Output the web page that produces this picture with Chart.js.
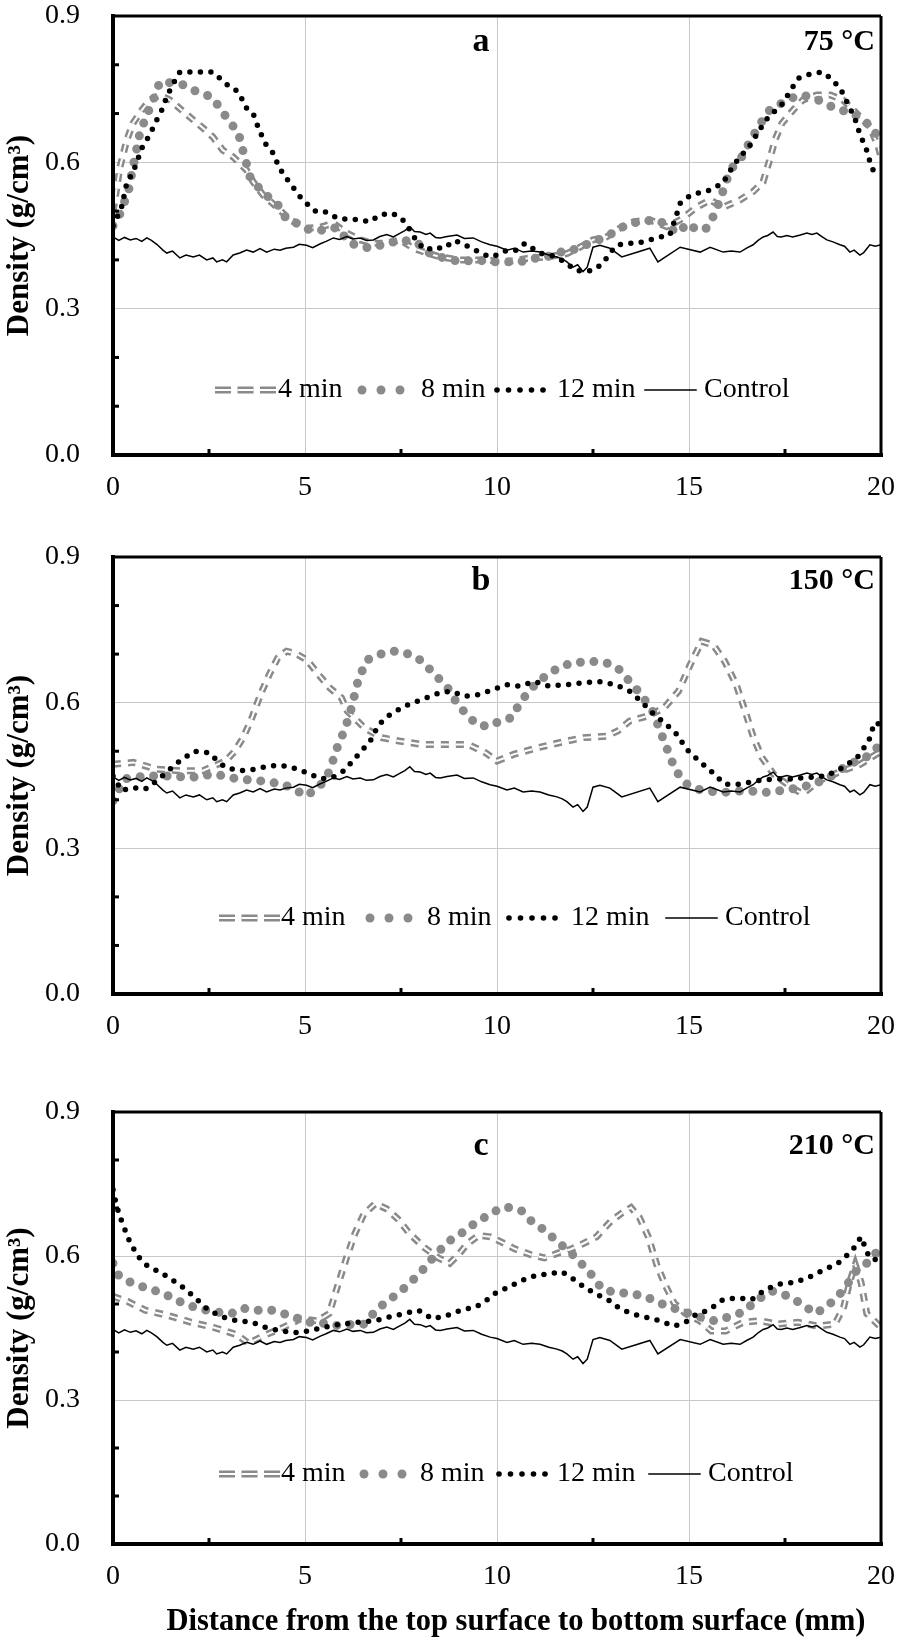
<!DOCTYPE html>
<html>
<head>
<meta charset="utf-8">
<script src="https://cdn.jsdelivr.net/npm/chart.js@4.4.0/dist/chart.umd.min.js"></script>
<style>
  html, body { margin: 0; padding: 0; background: #fff; }
  #wrap { position: relative; width: 898px; height: 1637px; }
  canvas { position: absolute; left: 0; }
</style>
</head>
<body>
<div id="wrap">
  <canvas id="ca" width="898" height="520" style="top:0"></canvas>
  <canvas id="cb" width="898" height="540" style="top:520px"></canvas>
  <canvas id="cc" width="898" height="577" style="top:1060px"></canvas>
</div>
<script>
const FONT = '"Liberation Serif", "Times New Roman", serif';
const GRAY = '#8a8a8a';
const GRID = '#c8c8c8';

const seriesNames = ['4 min', '8 min', '12 min', 'Control'];
const yMinor = [0.1, 0.2, 0.4, 0.5, 0.7, 0.8];
const xMinor = [2.5, 7.5, 12.5, 17.5];

// control sample, same curve in all three panels  [mm, g/cm3]
const control = [[0,0.447],[0.15,0.44],[0.3,0.446],[0.45,0.441],[0.6,0.444],[0.75,0.438],[0.88,0.445],[1.0,0.44],
  [1.14,0.432],[1.3,0.42],[1.4,0.414],[1.55,0.418],[1.74,0.404],[1.9,0.41],[2.09,0.406],[2.25,0.41],[2.44,0.4],
  [2.6,0.404],[2.7,0.396],[2.85,0.4],[2.96,0.396],[3.13,0.41],[3.3,0.414],[3.48,0.42],[3.65,0.416],[3.83,0.423],
  [4.0,0.416],[4.2,0.422],[4.35,0.42],[4.5,0.424],[4.7,0.426],[4.85,0.432],[5.04,0.43],[5.2,0.425],[5.4,0.433],
  [5.55,0.438],[5.74,0.445],[5.9,0.442],[6.09,0.448],[6.25,0.443],[6.44,0.445],[6.6,0.44],[6.78,0.441],[6.95,0.448],
  [7.13,0.452],[7.3,0.447],[7.48,0.455],[7.6,0.46],[7.73,0.468],[7.85,0.458],[8.0,0.457],[8.15,0.452],[8.26,0.455],
  [8.4,0.446],[8.52,0.445],[8.7,0.448],[8.96,0.451],[9.15,0.444],[9.38,0.445],[9.6,0.437],[9.82,0.431],[10.0,0.428],
  [10.26,0.42],[10.45,0.424],[10.68,0.416],[10.9,0.418],[11.12,0.416],[11.35,0.41],[11.56,0.406],[11.7,0.402],
  [11.82,0.396],[11.98,0.385],[12.1,0.39],[12.24,0.376],[12.35,0.385],[12.5,0.426],[12.68,0.43],[12.94,0.424],
  [13.25,0.406],[13.98,0.424],[14.19,0.396],[14.77,0.426],[15.29,0.416],[15.55,0.426],[15.89,0.416],[16.1,0.418],
  [16.33,0.416],[16.5,0.424],[16.67,0.431],[16.8,0.44],[16.93,0.447],[17.05,0.45],[17.19,0.457],[17.3,0.448],
  [17.4,0.447],[17.55,0.45],[17.7,0.447],[17.9,0.451],[18.07,0.455],[18.2,0.452],[18.33,0.455],[18.45,0.448],
  [18.59,0.441],[18.75,0.437],[18.93,0.431],[19.05,0.428],[19.19,0.416],[19.3,0.42],[19.45,0.41],[19.55,0.415],
  [19.71,0.431],[19.85,0.428],[20,0.431]];

// panel a, 75 C
const a4 = [[0,0.5],[0.05,0.523],[0.18,0.59],[0.36,0.646],[0.52,0.68],[0.75,0.707],[0.96,0.728],[1.22,0.738],
  [1.48,0.728],[1.79,0.707],[2.09,0.687],[2.35,0.67],[2.6,0.652],[2.86,0.625],[3.13,0.611],[3.48,0.584],[3.65,0.56],
  [3.91,0.533],[4.27,0.508],[4.61,0.482],[5.04,0.465],[5.4,0.467],[5.74,0.475],[6.09,0.455],[6.44,0.441],[6.78,0.434],
  [7.13,0.434],[7.48,0.441],[7.82,0.424],[8.18,0.414],[8.52,0.406],[9.04,0.4],[9.65,0.4],[10.26,0.396],[10.78,0.403],
  [11.3,0.406],[11.82,0.413],[12.16,0.426],[12.5,0.441],[12.85,0.447],[13.2,0.465],[13.55,0.478],[13.98,0.482],
  [14.42,0.468],[14.77,0.482],[15.2,0.508],[15.55,0.523],[15.89,0.508],[16.33,0.523],[16.67,0.54],[16.93,0.56],
  [17.1,0.605],[17.24,0.646],[17.42,0.68],[17.71,0.707],[17.97,0.728],[18.33,0.738],[18.68,0.738],[19.01,0.728],
  [19.37,0.7],[19.71,0.673],[19.93,0.632],[20,0.61]];
const a8 = [[0,0.47],[0.14,0.486],[0.4,0.54],[0.52,0.59],[0.7,0.66],[0.88,0.697],[1.05,0.728],[1.22,0.765],
  [1.53,0.763],[1.82,0.759],[2.18,0.745],[2.57,0.734],[2.8,0.71],[3.03,0.683],[3.26,0.662],[3.38,0.625],[3.57,0.57],
  [3.91,0.537],[4.27,0.516],[4.53,0.482],[4.79,0.475],[5.13,0.461],[5.6,0.461],[5.83,0.467],[6.17,0.434],[6.69,0.424],
  [7.13,0.434],[7.55,0.441],[7.94,0.434],[8.18,0.416],[8.52,0.406],[9.04,0.396],[9.47,0.4],[9.82,0.396],[10.26,0.396],
  [10.6,0.396],[10.95,0.403],[11.3,0.406],[11.56,0.416],[11.82,0.416],[12.16,0.426],[12.5,0.437],[12.85,0.447],
  [13.12,0.461],[13.46,0.475],[13.77,0.478],[14.07,0.482],[14.37,0.475],[14.69,0.455],[14.98,0.475],[15.2,0.461],
  [15.46,0.465],[15.68,0.496],[15.85,0.533],[16.07,0.584],[16.37,0.611],[16.63,0.649],[16.89,0.683],[17.1,0.707],
  [17.63,0.731],[17.97,0.738],[18.36,0.728],[18.8,0.711],[19.28,0.7],[19.76,0.673],[20,0.64]];
const a12 = [[0,0.47],[0.1,0.486],[0.23,0.51],[0.36,0.558],[0.52,0.58],[0.62,0.6],[0.75,0.629],[0.88,0.646],
  [1.0,0.664],[1.14,0.687],[1.27,0.707],[1.4,0.734],[1.53,0.756],[1.74,0.785],[2.05,0.785],[2.3,0.785],[2.6,0.785],
  [3.05,0.754],[3.26,0.745],[3.48,0.711],[3.65,0.7],[3.74,0.68],[3.95,0.64],[4.17,0.619],[4.27,0.6],[4.44,0.574],
  [4.61,0.558],[4.83,0.533],[5.04,0.516],[5.3,0.498],[5.57,0.498],[5.83,0.486],[6.09,0.483],[6.35,0.483],[6.69,0.478],
  [6.95,0.492],[7.26,0.496],[7.51,0.486],[7.69,0.467],[7.94,0.434],[8.18,0.42],[8.35,0.427],[8.6,0.423],[8.9,0.44],
  [9.35,0.424],[9.57,0.414],[9.82,0.406],[10.0,0.41],[10.26,0.42],[10.5,0.42],[10.73,0.434],[11.12,0.414],[11.38,0.41],
  [11.6,0.403],[11.82,0.393],[12.03,0.379],[12.28,0.376],[12.5,0.379],[12.76,0.393],[12.94,0.414],[13.12,0.43],
  [13.38,0.434],[13.64,0.434],[13.98,0.441],[14.24,0.447],[14.5,0.451],[14.69,0.496],[14.77,0.516],[14.98,0.529],
  [15.24,0.537],[15.55,0.543],[15.89,0.558],[16.0,0.574],[16.2,0.598],[16.37,0.615],[16.54,0.629],[16.7,0.649],
  [16.89,0.673],[17.1,0.697],[17.37,0.713],[17.54,0.734],[17.84,0.772],[18.07,0.779],[18.46,0.785],[18.75,0.769],
  [18.98,0.745],[19.24,0.703],[19.37,0.68],[19.45,0.656],[19.6,0.632],[19.76,0.588],[19.93,0.57]];

// panel b, 150 C
const b4 = [[0,0.473],[0.53,0.477],[1.14,0.463],[1.74,0.46],[2.34,0.46],[2.94,0.48],[3.17,0.5],[3.39,0.528],
  [3.62,0.569],[3.84,0.617],[4.07,0.658],[4.29,0.692],[4.52,0.706],[4.74,0.702],[5.05,0.688],[5.35,0.658],[5.65,0.63],
  [5.95,0.61],[6.1,0.583],[6.55,0.548],[7.0,0.528],[7.45,0.521],[8.05,0.514],[8.65,0.514],[9.25,0.514],[9.7,0.497],
  [10.0,0.48],[10.45,0.494],[11.05,0.507],[11.65,0.518],[12.25,0.528],[12.85,0.531],[13.15,0.542],[13.45,0.562],
  [13.9,0.572],[14.35,0.589],[14.73,0.624],[15.03,0.678],[15.33,0.726],[15.63,0.719],[15.93,0.685],[16.23,0.637],
  [16.46,0.583],[16.68,0.528],[16.9,0.487],[17.2,0.453],[17.66,0.426],[17.96,0.412],[18.4,0.44],[19.0,0.46],
  [19.46,0.473],[20,0.5]];
const b8 = [[0,0.398],[0.3,0.443],[0.84,0.449],[1.44,0.449],[2.04,0.446],[2.64,0.453],[3.24,0.443],[3.84,0.439],
  [4.44,0.432],[5.05,0.408],[5.42,0.432],[5.65,0.46],[5.8,0.5],[6.02,0.542],[6.17,0.577],[6.4,0.651],[6.62,0.688],
  [6.97,0.7],[7.33,0.706],[7.64,0.702],[8.0,0.688],[8.35,0.661],[8.72,0.63],[8.95,0.6],[9.17,0.579],[9.47,0.555],
  [9.77,0.551],[10.07,0.562],[10.38,0.569],[10.6,0.6],[10.9,0.63],[11.2,0.651],[11.58,0.671],[11.95,0.682],
  [12.48,0.685],[12.85,0.682],[13.15,0.671],[13.45,0.644],[13.75,0.617],[14.05,0.583],[14.35,0.521],[14.65,0.46],
  [14.95,0.432],[15.33,0.419],[15.86,0.415],[16.46,0.419],[17.06,0.415],[17.66,0.422],[18.26,0.432],[18.71,0.449],
  [19.16,0.473],[19.6,0.487],[20,0.514]];
const b12 = [[0,0.449],[0.22,0.419],[0.53,0.425],[0.84,0.422],[1.14,0.439],[1.44,0.46],[1.74,0.48],[2.12,0.5],
  [2.5,0.497],[2.72,0.48],[2.94,0.466],[3.32,0.46],[3.7,0.463],[4.07,0.47],[4.44,0.47],[4.82,0.463],[5.12,0.453],
  [5.42,0.443],[5.72,0.446],[6.02,0.46],[6.32,0.487],[6.7,0.521],[6.92,0.555],[7.22,0.576],[7.6,0.593],[8.05,0.607],
  [8.5,0.62],[8.8,0.624],[9.17,0.613],[9.55,0.617],[10.0,0.63],[10.23,0.637],[10.6,0.634],[10.98,0.644],[11.35,0.634],
  [11.8,0.637],[12.25,0.641],[12.63,0.644],[13.08,0.637],[13.45,0.624],[13.75,0.603],[14.05,0.579],[14.35,0.559],
  [14.65,0.538],[14.95,0.503],[15.26,0.48],[15.56,0.46],[15.93,0.432],[16.3,0.432],[16.76,0.439],[17.2,0.443],
  [17.66,0.443],[18.1,0.446],[18.56,0.449],[19.0,0.466],[19.38,0.487],[19.68,0.521],[19.83,0.559],[20,0.555]];

// panel c, 210 C
const c4 = [[0,0.516],[0.39,0.505],[0.84,0.487],[1.44,0.476],[2.04,0.462],[2.63,0.451],[3.23,0.436],[3.53,0.418],
  [3.98,0.436],[4.43,0.451],[4.88,0.469],[5.33,0.465],[5.63,0.48],[5.85,0.538],[6.08,0.596],[6.3,0.647],[6.53,0.687],
  [6.83,0.709],[7.13,0.698],[7.43,0.676],[7.72,0.647],[8.1,0.618],[8.47,0.596],[8.77,0.585],[9.0,0.603],[9.22,0.625],
  [9.52,0.643],[9.82,0.64],[10.12,0.629],[10.49,0.614],[10.87,0.603],[11.24,0.596],[11.62,0.607],[11.92,0.614],
  [12.22,0.625],[12.59,0.64],[12.96,0.672],[13.26,0.69],[13.49,0.701],[13.71,0.68],[13.94,0.64],[14.16,0.582],
  [14.39,0.538],[14.61,0.502],[14.91,0.48],[15.28,0.465],[15.58,0.444],[15.96,0.444],[16.41,0.462],[16.86,0.465],
  [17.31,0.458],[17.83,0.462],[18.35,0.454],[18.8,0.458],[19.03,0.494],[19.18,0.545],[19.33,0.582],[19.48,0.545],
  [19.63,0.48],[20,0.451]];
const c8 = [[0,0.585],[0.09,0.563],[0.46,0.545],[0.84,0.534],[1.29,0.523],[1.74,0.505],[2.19,0.491],[2.71,0.483],
  [3.08,0.48],[3.38,0.491],[3.76,0.487],[4.13,0.487],[4.43,0.48],[4.73,0.473],[5.03,0.462],[5.33,0.462],[5.63,0.458],
  [5.93,0.454],[6.23,0.458],[6.53,0.458],[6.9,0.491],[7.2,0.509],[7.5,0.527],[7.8,0.549],[8.1,0.574],[8.4,0.603],
  [8.77,0.632],[9.07,0.647],[9.37,0.665],[9.67,0.68],[9.97,0.694],[10.12,0.701],[10.34,0.701],[10.64,0.694],
  [10.94,0.669],[11.24,0.654],[11.54,0.632],[11.92,0.607],[12.14,0.589],[12.44,0.563],[12.74,0.531],[13.11,0.523],
  [13.41,0.523],[13.86,0.516],[14.24,0.502],[14.61,0.491],[14.91,0.483],[15.28,0.473],[15.66,0.465],[16.03,0.473],
  [16.41,0.483],[16.78,0.509],[17.16,0.527],[17.6,0.516],[17.98,0.498],[18.28,0.48],[18.58,0.494],[18.88,0.516],
  [19.1,0.538],[19.33,0.567],[19.63,0.585],[20,0.618]];
const c12 = [[0,0.738],[0.09,0.705],[0.24,0.669],[0.46,0.625],[0.69,0.596],[0.91,0.578],[1.21,0.567],[1.51,0.552],
  [1.89,0.531],[2.19,0.509],[2.49,0.487],[2.86,0.473],[3.23,0.465],[3.61,0.462],[3.98,0.451],[4.36,0.444],[4.73,0.44],
  [5.1,0.444],[5.48,0.451],[5.93,0.458],[6.38,0.462],[6.83,0.465],[7.2,0.473],[7.57,0.48],[7.95,0.487],[8.32,0.469],
  [8.7,0.476],[9.07,0.487],[9.45,0.494],[9.75,0.509],[9.97,0.523],[10.27,0.534],[10.64,0.549],[11.02,0.56],
  [11.39,0.563],[11.69,0.567],[11.99,0.552],[12.29,0.534],[12.59,0.52],[12.89,0.509],[13.19,0.491],[13.49,0.48],
  [13.86,0.473],[14.24,0.465],[14.61,0.454],[14.91,0.462],[15.21,0.48],[15.51,0.487],[15.88,0.509],[16.26,0.513],
  [16.63,0.509],[17.0,0.531],[17.38,0.542],[17.75,0.545],[18.13,0.556],[18.5,0.571],[18.88,0.585],[19.25,0.611],
  [19.48,0.64],[19.7,0.596],[20,0.589]];

const toXY = arr => arr.map(([x, y]) => ({ x, y }));

function makeDatasets(d4, d8, d12) {
  return [
    { label: seriesNames[0], data: toXY(d4), borderColor: GRAY, borderWidth: 7, borderDash: [8, 7], order: 5 },
    { label: seriesNames[0], data: toXY(d4), borderColor: '#fff', borderWidth: 2, borderDash: [8, 7], order: 4 },
    { label: seriesNames[1], data: toXY(d8), borderColor: GRAY, borderWidth: 9, borderDash: [0, 13.5],
      borderCapStyle: 'round', order: 3 },
    { label: seriesNames[2], data: toXY(d12), borderColor: '#000', borderWidth: 5.5, borderDash: [0, 10.5],
      borderCapStyle: 'round', order: 2 },
    { label: seriesNames[3], data: toXY(control), borderColor: '#000', borderWidth: 1.5, order: 1 },
  ].map(ds => Object.assign({ pointRadius: 0, tension: 0, fill: false }, ds));
}

function line(ctx, x1, y1, x2, y2) {
  ctx.beginPath(); ctx.moveTo(x1, y1); ctx.lineTo(x2, y2); ctx.stroke();
}
function dot(ctx, x, y, r) {
  ctx.beginPath(); ctx.arc(x, y, r, 0, Math.PI * 2); ctx.fill();
}

function drawLegend(ctx, xs, cy) {
  const [s4, t4, s8, t8, s12, t12, sc, tc] = xs;
  for (let i = 0; i < 3; i++) {
    const x0 = s4 + i * 22.5;
    ctx.fillStyle = GRAY; ctx.fillRect(x0, cy - 3.5, 16, 7);
    ctx.fillStyle = '#fff'; ctx.fillRect(x0, cy - 1, 16, 2);
  }
  ctx.fillStyle = GRAY;
  [4, 23, 42].forEach(d => dot(ctx, s8 + d, cy, 4.5));
  ctx.fillStyle = '#000';
  [3, 14.5, 26, 37.5, 49].forEach(d => dot(ctx, s12 + d, cy, 2.8));
  ctx.strokeStyle = '#000'; ctx.lineWidth = 1.5;
  line(ctx, sc, cy, sc + 51, cy);
  ctx.font = `28px ${FONT}`;
  ctx.textAlign = 'left'; ctx.textBaseline = 'middle';
  ctx.fillText(seriesNames[0], t4, cy);
  ctx.fillText(seriesNames[1], t8, cy);
  ctx.fillText(seriesNames[2], t12, cy);
  ctx.fillText(seriesNames[3], tc, cy);
}

const decor = {
  id: 'decor',
  afterDatasetsDraw(chart, args, o) {
    const { ctx, chartArea: a, scales: { x, y } } = chart;
    ctx.save();
    ctx.strokeStyle = '#000';
    ctx.lineWidth = 3;
    yMinor.forEach(v => { const py = y.getPixelForValue(v); line(ctx, a.left, py, a.left + 6, py); });
    xMinor.forEach(v => { const px = x.getPixelForValue(v); line(ctx, px, a.bottom, px, a.bottom - 6); });
    // plot frame
    ctx.lineWidth = 3;
    line(ctx, a.left, a.top, a.right, a.top);
    line(ctx, a.right, a.top, a.right, a.bottom);
    ctx.lineWidth = 4;
    ctx.lineCap = 'square';
    line(ctx, a.left, a.top, a.left, a.bottom);
    line(ctx, a.left, a.bottom, a.right, a.bottom);
    // panel letter and temperature
    ctx.fillStyle = '#000';
    ctx.textBaseline = 'middle';
    ctx.font = `bold 34px ${FONT}`;
    ctx.textAlign = 'center';
    ctx.fillText(o.letter, 481, a.top + o.labelDy);
    ctx.font = `bold 30px ${FONT}`;
    ctx.textAlign = 'right';
    ctx.fillText(o.temp, 875, a.top + o.labelDy);
    drawLegend(ctx, o.legendX, a.bottom - o.legendDy);
    if (o.xTitle) {
      ctx.font = `bold 30.5px ${FONT}`;
      ctx.textAlign = 'center';
      ctx.fillText(o.xTitle, 516, o.xTitleY);
    }
    ctx.restore();
  }
};

function makeChart(id, d4, d8, d12, padTop, xHeight, deco) {
  return new Chart(document.getElementById(id), {
    type: 'line',
    data: { datasets: makeDatasets(d4, d8, d12) },
    plugins: [decor],
    options: {
      responsive: false,
      animation: false,
      devicePixelRatio: 1,
      layout: { padding: { top: padTop, right: 17, bottom: 0, left: 0 } },
      plugins: { legend: { display: false }, tooltip: { enabled: false }, decor: deco },
      scales: {
        x: {
          type: 'linear', min: 0, max: 20,
          afterFit: s => { s.height = xHeight; s.paddingLeft = 0; s.paddingRight = 0; },
          border: { display: false },
          grid: { drawTicks: false, lineWidth: 1,
            color: c => (c.tick && c.tick.value > 0.01 && c.tick.value < 19.99) ? GRID : 'rgba(0,0,0,0)' },
          ticks: { stepSize: 5, padding: 19, maxRotation: 0, autoSkip: false, color: '#000',
            font: { family: FONT, size: 28, lineHeight: 1 } }
        },
        y: {
          min: 0, max: 0.9,
          afterFit: s => { s.width = 113; s.paddingTop = 0; s.paddingBottom = 0; },
          border: { display: false },
          grid: { drawTicks: false, lineWidth: 1,
            color: c => (c.tick && c.tick.value > 0.01 && c.tick.value < 0.89) ? GRID : 'rgba(0,0,0,0)' },
          ticks: { stepSize: 0.3, padding: 33, color: '#000', callback: v => v.toFixed(1),
            font: { family: FONT, size: 28, lineHeight: 1 } },
          title: { display: true, text: 'Density (g/cm³)', color: '#000', padding: { top: 1, bottom: 0 },
            font: { family: FONT, size: 31, weight: 'bold', lineHeight: 1.2 } }
        }
      }
    }
  });
}

makeChart('ca', a4, a8, a12, 16, 65, {
  letter: 'a', temp: '75 °C', labelDy: 26, legendDy: 65,
  legendX: [215, 278, 358, 421, 494, 557, 645, 704]
});
makeChart('cb', b4, b8, b12, 37, 66, {
  letter: 'b', temp: '150 °C', labelDy: 24, legendDy: 76,
  legendX: [219, 281, 366, 427, 506, 571, 666, 725]
});
makeChart('cc', c4, c8, c12, 52, 93, {
  letter: 'c', temp: '210 °C', labelDy: 34, legendDy: 70,
  legendX: [219, 281, 360, 420, 496, 557, 649, 708],
  xTitle: 'Distance from the top surface to bottom surface (mm)', xTitleY: 562
});
</script>
</body>
</html>
